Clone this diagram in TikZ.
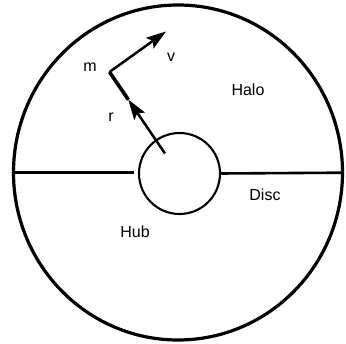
\documentclass[tikz,border=0pt]{standalone}
\usepackage{fontspec}
\setmainfont{Liberation Sans}
\usetikzlibrary{arrows.meta,calc,shapes.geometric}
\begin{document}
\begin{tikzpicture}[x=1pt,y=-1pt,
  lbl/.style={font=\fontsize{16}{18}\selectfont, inner sep=0pt},
  head/.style={-{Stealth[length=20pt,width=13pt,inset=4pt]}}]
\useasboundingbox (0,0) rectangle (346,344);
% outer galaxy outline
\node[draw, line width=3.2pt, ellipse, minimum width=329pt, minimum height=335pt, inner sep=0pt] (outer) at (178,172.5) {};
% hub
\node[draw, line width=2.1pt, circle, minimum size=81pt, inner sep=0pt] (hub) at (179.5,173.5) {};
% disc plane
\coordinate (dl) at (13.5,172.7);
\coordinate (dlend) at (134,172.7);
\coordinate (dr) at (342.5,172.7);
\draw[line width=2.6pt] (dl) -- (dlend);
\draw[line width=2.6pt] (hub.east) -- (dr);
% vectors
\coordinate (c) at (165,153.5);
\coordinate (m) at (109.5,72);
\coordinate (vt) at (166,31.5);
\coordinate (rt) at ($(c)!0.66!(m)$);
\draw[line width=2.5pt, head] (c) -- (rt);
\draw[line width=3.6pt] (rt) -- (m);
\draw[line width=2.5pt, head] (m) -- (vt);
% labels
\node[lbl] (lm) at (90,67.5) {m};
\node[lbl] (lv) at (171,57) {v};
\node[lbl] (lr) at (111,117) {r};
\node[lbl] (lhalo) at (248,89.5) {Halo};
\node[lbl] (ldisc) at (265,195) {Disc};
\node[lbl] (lhub) at (135,231.5) {Hub};
\end{tikzpicture}
\end{document}
